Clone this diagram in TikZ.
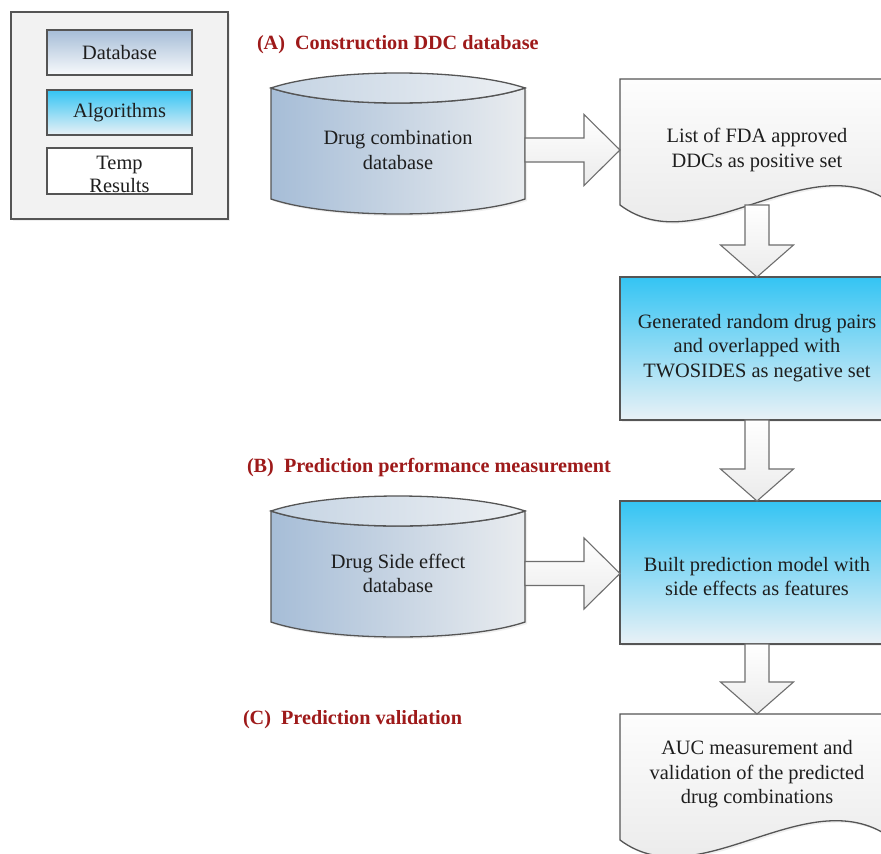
\documentclass[tikz,border=0pt]{standalone}
\usepackage{fontspec}
\setmainfont{Liberation Serif}
\usetikzlibrary{calc,shadows}

\definecolor{edge}{HTML}{555555}
\definecolor{ink}{HTML}{1E1E1E}
\definecolor{titlered}{HTML}{9E1A1A}
\definecolor{dbleft}{HTML}{A6BDD7}
\definecolor{dbright}{HTML}{E9ECEF}
\definecolor{dbtopleft}{HTML}{C4D3E3}
\definecolor{dbtopright}{HTML}{EDF0F3}
\definecolor{algtop}{HTML}{34C4F3}
\definecolor{algbottom}{HTML}{E9F1F6}
\definecolor{paper}{HTML}{FDFDFD}
\definecolor{papershade}{HTML}{E6E6E6}

% hollow arrow pointing right: #1 start of the shaft, #2 tip
\newcommand\rightblock[2]{%
  \draw[blockarrow] let \p1=#1, \p2=#2 in
    (\x1,\y2+12pt) -- (\x2-36pt,\y2+12pt) -- (\x2-36pt,\y2+35.5pt) -- (\x2,\y2)
    -- (\x2-36pt,\y2-35.5pt) -- (\x2-36pt,\y2-12pt) -- (\x1,\y2-12pt) -- cycle;}
% hollow arrow pointing down: #1 top of the shaft, #2 tip
\newcommand\downblock[2]{%
  \draw[blockarrow] let \p1=#1, \p2=#2 in
    (\x2-12pt,\y1) -- (\x2-12pt,\y2+32pt) -- (\x2-36.5pt,\y2+32pt) -- (\x2,\y2)
    -- (\x2+36.5pt,\y2+32pt) -- (\x2+12pt,\y2+32pt) -- (\x2+12pt,\y1) -- cycle;}

\begin{document}
\begin{tikzpicture}[x=1pt,y=-1pt,
  every node/.style={inner sep=0pt, outer sep=0pt},
  body/.style={font=\fontsize{20.4}{24.5}\selectfont, text=ink, align=center},
  heading/.style={font=\fontsize{20.2}{24}\selectfont\bfseries, text=titlered, anchor=base west},
  outline/.style={draw=edge, line width=1.3pt},
  soft/.style={drop shadow={opacity=0.12, shadow xshift=2pt, shadow yshift=-2pt}},
  dbfill/.style={left color=dbleft, right color=dbright},
  dbtop/.style={left color=dbtopleft, right color=dbtopright},
  algbox/.style={rectangle, outline, soft, top color=algtop, bottom color=algbottom},
  blockarrow/.style={draw=edge!85, line width=1.1pt, top color=white, bottom color=papershade!80},
  frame/.style={rectangle, inner sep=0pt}
]
\useasboundingbox (0,0) rectangle (881,854);
\clip (0,0) rectangle (881,854);
\fill[white] (0,0) rectangle (881,854);

% ---------- legend ----------
\node[frame, outline, soft, fill=black!5, minimum width=217, minimum height=207] (legend) at (119.5,115.5) {};
\node[frame, outline, top color=dbleft, bottom color=white!92!dbleft, minimum width=145, minimum height=45, body] (lgdb) at (119.5,52.5) {Database};
\node[frame, outline, top color=algtop, bottom color=algbottom, minimum width=145, minimum height=45, body] (lgalg) at (119.5,112.5) {Algorithms};
\node[frame, outline, fill=white, minimum width=145, minimum height=46] (lgtmp) at (119.5,171) {};
\node[body] (lgtmptext) at (119.5,174) {Temp\\[-1.5pt]Results};

% ---------- section headings ----------
\node[heading] (hA) at (257,49) {(A)\enspace Construction DDC database};
\node[heading] (hB) at (247,472) {(B)\enspace Prediction performance measurement};
\node[heading] (hC) at (243,724) {(C)\enspace Prediction validation};

% ---------- database cylinders ----------
\foreach \dy/\nm in {0/cylA, 423/cylB} {
  \begin{scope}[shift={(0,\dy)}]
    \path[outline, soft, dbfill]
      (271,88) -- (271,199) .. controls (330,219) and (466,219) .. (525,199)
      -- (525,88) .. controls (466,108) and (330,108) .. (271,88) -- cycle;
    \path[outline, dbtop]
      (271,88) .. controls (330,68) and (466,68) .. (525,88)
      .. controls (466,108) and (330,108) .. (271,88) -- cycle;
    \node[frame, minimum width=254, minimum height=140] (\nm) at (398,144) {};
  \end{scope}
}
\node[body] (cylAtext) at (398,150) {Drug combination\\database};
\node[body] (cylBtext) at (398,573.5) {Drug Side effect\\database};

% ---------- document shapes ----------
\foreach \dy/\nm in {0/docA, 635/docC} {
  \begin{scope}[shift={(0,\dy)}]
    \path[outline, soft, top color=paper, bottom color=papershade]
      (620,79) -- (894,79) -- (894,205)
      .. controls (810,140) and (700,265) .. (620,205) -- cycle;
    \node[frame, minimum width=274, minimum height=126] (\nm) at (757,142) {};
  \end{scope}
}
\node[body] (docAtext) at (757,150) {List of FDA approved\\DDCs as positive set};
\node[body] (docCtext) at (757,774.5) {AUC measurement and\\validation of the predicted\\drug combinations};

% ---------- algorithm boxes ----------
\node[algbox, minimum width=274, minimum height=143] (boxB) at (757,348.5) {};
\node[body] (boxBtext) at (757,348)
  {Generated random drug pairs\\and overlapped with\\TWOSIDES as negative set};
\node[algbox, minimum width=274, minimum height=143] (boxC) at (757,572.5) {};
\node[body] (boxCtext) at (757,576.5) {Built prediction model with\\side effects as features};

% ---------- hollow arrows ----------
\rightblock{(cylA.east)}{(docA.west |- cylAtext)}
\rightblock{(cylB.east)}{(boxC.west |- cylBtext)}
\downblock{(docA.south)}{(boxB.north)}
\downblock{(boxB.south)}{(boxC.north)}
\downblock{(boxC.south)}{(docC.north)}
\end{tikzpicture}
\end{document}
